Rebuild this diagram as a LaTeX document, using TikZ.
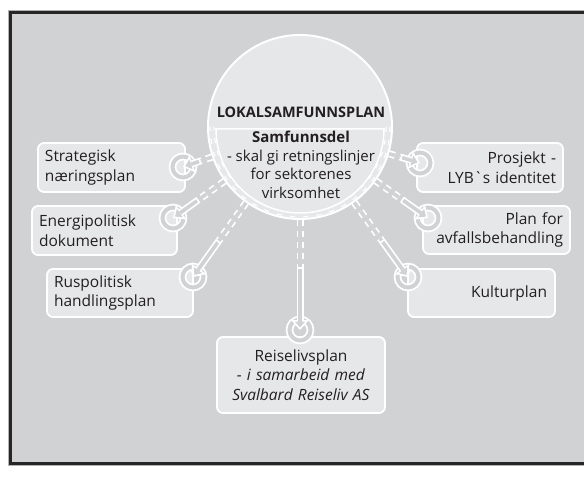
\documentclass[tikz,border=0pt]{standalone}
\usepackage{fontspec}
\setmainfont{Open Sans}
\usetikzlibrary{arrows.meta,calc}

\definecolor{bggray}{HTML}{D1D2D4}
\definecolor{boxgray}{HTML}{E6E7E8}
\definecolor{ink}{HTML}{231F20}

\tikzset{
  planbox/.style={draw=white, line width=1.8pt, fill=boxgray, rounded corners=6pt,
    text=ink, font=\fontsize{15.5}{19.5}\selectfont, inner xsep=7pt, inner ysep=0pt},
  target/.style={circle, draw=white, line width=1.8pt, double=bggray,
    double distance=4pt, minimum size=21pt, inner sep=0pt},
  link/.style={draw=white, line width=1.7pt, double=bggray, double distance=3.6pt},
  arrowout/.style={white, line width=7pt, -{Triangle[length=10pt,width=18pt,line width=0pt]}},
  arrowin/.style={bggray, line width=3.6pt, shorten >=2.5pt, shorten <=1.7pt,
    -{Triangle[length=6pt,width=10.4pt,line width=0pt]}},
}

\begin{document}
\begin{tikzpicture}[x=1pt,y=-1pt]
    \useasboundingbox (0,0) rectangle (584,484);
    \clip (0,0) rectangle (584,484);
    % Frame
    \draw[gray!60,line width=5pt] (10.5,12.5) rectangle (610,463.5);
    \draw[black!85,line width=3pt,fill=bggray] (10.5,12.5) rectangle (610,463.5);
    % Central circle
    \node[circle, draw=white, line width=2pt, fill=boxgray, minimum size=184pt,
      inner sep=0pt] (lsp) at (300,127) {};
    \draw[white, line width=1.5pt] (384,129) arc[start angle=0, end angle=180, radius=84] -- cycle;
    \draw[white, line width=1.2pt, double=boxgray, double distance=2.5pt,
      dash pattern=on 5pt off 8pt] (388,127) arc[start angle=0, end angle=180, radius=88];
    \node[text=ink, font=\fontsize{14.5}{19}\selectfont\bfseries] (lsptitle) at (301,112) {LOKALSAMFUNNSPLAN};
    \node[text=ink, font=\fontsize{15}{18.5}\selectfont, align=center] (lspsub) at (301,165)
      {\textbf{Samfunnsdel}\\- skal gi retningslinjer\\for sektorenes\\virksomhet};
    % Plans round the circle
    \node[planbox, text width=133pt, minimum height=49pt, align=left] (strat) at (111.5,167.5) {Strategisk\\næringsplan};
    \node[planbox, text width=131pt, minimum height=49pt, align=left] (energi) at (104.5,230.5) {Energipolitisk\\dokument};
    \node[planbox, text width=132pt, minimum height=48pt, align=left] (rus) at (120,293) {Ruspolitisk\\handlingsplan};
    \node[planbox, text width=132pt, minimum height=49pt, align=right] (prosj) at (490,167.5) {Prosjekt -\\LYB\textasciigrave s identitet};
    \node[planbox, text width=133pt, minimum height=48pt, align=right] (avfall) at (496.5,230) {Plan for\\avfallsbehandling};
    \node[planbox, text width=131pt, minimum height=48pt, inner xsep=8pt, align=right] (kultur) at (481.5,293) {Kulturplan};
    \node[planbox, text width=154pt, minimum height=76pt, align=center] (reise) at (301,375)
      {Reiselivsplan\\\textit{- i samarbeid med}\\\textit{Svalbard Reiseliv AS}};
    % Target rings
    \node[target] (strat-r) at (183,167) {};
    \node[target] (energi-r) at (173,218) {};
    \node[target] (rus-r) at (193,277) {};
    \node[target] (prosj-r) at (420,163) {};
    \node[target] (avfall-r) at (428,218) {};
    \node[target] (kultur-r) at (408,277) {};
    \node[target] (reise-r) at (300,330) {};
    % Links: dashed near the circle, then a hollow arrow
    \foreach \t/\d in {strat/105pt,energi/125pt,rus/140pt,prosj/105pt,avfall/125pt,kultur/140pt,reise/140pt} {
      \coordinate (\t-s) at ($(lsp.center)!\d!(\t-r.center)$);
      \draw[link, dash pattern=on 6pt off 5pt] (lsp) -- (\t-s);
      \draw[arrowout] (\t-s) -- (\t-r.center);
      \draw[arrowin] (\t-s) -- (\t-r.center);
    }
\end{tikzpicture}
\end{document}
